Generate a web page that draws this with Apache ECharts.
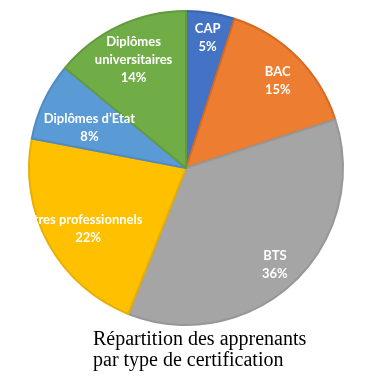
<!DOCTYPE html>
<html>
<head>
<meta charset="utf-8">
<script src="https://cdn.jsdelivr.net/npm/echarts@6/dist/echarts.min.js"></script>
<style>
html,body{margin:0;padding:0;background:#fff;}
#c{width:373px;height:382px;}
</style>
</head>
<body>
<div id="c"></div>
<script>
const categories = ['CAP', 'BAC', 'BTS', 'Titres professionnels', 'Diplômes d’Etat', 'Diplômes universitaires'];
const labelTexts = ['CAP', 'BAC', 'BTS', 'tres professionnels', 'Diplômes d’Etat', 'Diplômes\nuniversitaires'];
const values = [5, 15, 36, 22, 8, 14];
const colors = ['#4472C4', '#ED7D31', '#A5A5A5', '#FFC000', '#5B9BD5', '#70AD47'];
const borderColors = ['#3A64AE', '#D66A22', '#979797', '#E8AE00', '#4F8BC2', '#629A3C'];
const titleText = 'Répartition des apprenants\npar type de certification';

// small label nudges (pixels) to mimic the original "best fit" placement
const labelNudge = [[2, -6], [3, 2], [3, 5], [12, 0], [17, 13], [1, 5]];

const chart = echarts.init(document.getElementById('c'), null, {renderer: 'canvas'});
const pieData = categories.map((n, i) => ({
  name: n, value: values[i],
  itemStyle: {color: colors[i], borderColor: borderColors[i], borderWidth: 2}
}));
const labelData = categories.map((n, i) => ({name: n, value: values[i]}));
chart.setOption({
  animation: false,
  title: {
    text: titleText, left: 93, top: 329, padding: 0,
    textStyle: {fontFamily: 'Liberation Serif', fontSize: 20, fontWeight: 'normal', color: '#000', lineHeight: 21}
  },
  series: [
    {
      type: 'pie', center: [186, 168], radius: [0, 157], startAngle: 90, clockwise: true,
      data: pieData, label: {show: false}, labelLine: {show: false}, silent: true,
      emphasis: {disabled: true}
    },
    {
      type: 'pie', center: [186, 168], radius: [88, 157], startAngle: 90, clockwise: true,
      data: labelData, silent: true, emphasis: {disabled: true},
      itemStyle: {color: 'rgba(0,0,0,0)', borderWidth: 0},
      labelLine: {show: false},
      label: {
        show: true, position: 'inside', color: '#fff', fontFamily: 'Lato', fontWeight: 'bold',
        fontSize: 13, lineHeight: 18, align: 'center', overflow: 'none',
        formatter: p => labelTexts[p.dataIndex] + '\n' + p.value + '%'
      },
      labelLayout: p => ({dx: labelNudge[p.dataIndex][0], dy: labelNudge[p.dataIndex][1]})
    }
  ]
});
</script>
</body>
</html>
